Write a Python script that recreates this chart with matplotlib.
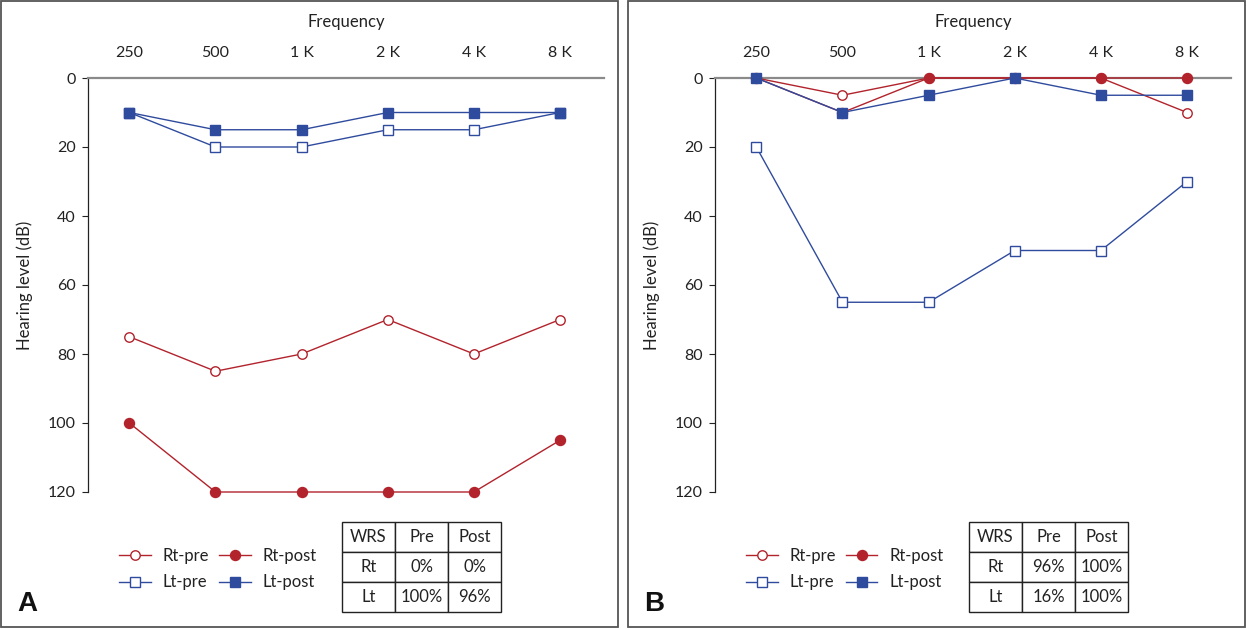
import matplotlib
matplotlib.use("Agg")
import matplotlib.pyplot as plt
from matplotlib.lines import Line2D
from matplotlib.patches import Rectangle

plt.rcParams['font.family'] = ['Lato', 'DejaVu Sans']

freqs = ['250', '500', '1 K', '2 K', '4 K', '8 K']
yticks = [0, 20, 40, 60, 80, 100, 120]

# panel A
a_rt_pre = [75, 85, 80, 70, 80, 70]
a_rt_post = [100, 120, 120, 120, 120, 105]
a_lt_pre = [10, 20, 20, 15, 15, 10]
a_lt_post = [10, 15, 15, 10, 10, 10]
a_wrs = [['WRS', 'Pre', 'Post'], ['Rt', '0%', '0%'], ['Lt', '100%', '96%']]

# panel B
b_rt_pre = [0, 5, 0, 0, 0, 10]
b_rt_post = [0, 10, 0, 0, 0, 0]
b_lt_pre = [20, 65, 65, 50, 50, 30]
b_lt_post = [0, 10, 5, 0, 5, 5]
b_wrs = [['WRS', 'Pre', 'Post'], ['Rt', '96%', '100%'], ['Lt', '16%', '100%']]

RED = '#b2232c'
BLUE = '#2f4b9e'
W, H = 1247, 629

fig = plt.figure(figsize=(W / 100, H / 100), dpi=100)


def px(x, y, w=0, h=0):
    # pixel box (top-left origin) -> figure fraction
    return [x / W, 1 - (y + h) / H, w / W, h / H]


def panel(x0, rt_pre, rt_post, lt_pre, lt_post, wrs, letter):
    # outer frame
    fx, fy, fw, fh = px(x0 + 1, 1, 617, 626)
    fig.patches.append(Rectangle((fx, fy), fw, fh, transform=fig.transFigure,
                                 fill=False, edgecolor='#555555', linewidth=1.3))

    ax = fig.add_axes(px(x0 + 88, 78, 516, 414))
    xs = range(len(freqs))
    kw = dict(linewidth=1.0, clip_on=False)
    ax.plot(xs, rt_pre, color=RED, marker='o', markersize=6.8, markerfacecolor='white',
            markeredgecolor=RED, markeredgewidth=1.0, zorder=4, **kw)
    ax.plot(xs, rt_post, color=RED, marker='o', markersize=7.2, markerfacecolor=RED,
            markeredgecolor=RED, zorder=5, **kw)
    ax.plot(xs, lt_pre, color=BLUE, marker='s', markersize=7.0, markerfacecolor='white',
            markeredgecolor=BLUE, markeredgewidth=1.0, zorder=6, **kw)
    ax.plot(xs, lt_post, color=BLUE, marker='s', markersize=7.4, markerfacecolor=BLUE,
            markeredgecolor=BLUE, zorder=7, **kw)

    ax.set_xlim(-0.48, 5.51)
    ax.set_ylim(120, 0)
    ax.set_yticks(yticks)
    ax.set_xticks(list(xs))
    ax.set_xticklabels(freqs)
    ax.xaxis.tick_top()
    ax.tick_params(axis='x', length=0, pad=13, labelsize=11.5, colors='#222222')
    ax.tick_params(axis='y', length=4, width=0.8, pad=5, labelsize=11.5, colors='#222222')
    for s in ('right', 'bottom'):
        ax.spines[s].set_visible(False)
    ax.spines['top'].set_color('#8a8a8a')
    ax.spines['top'].set_linewidth(1.6)
    ax.spines['left'].set_color('#222222')
    ax.spines['left'].set_linewidth(0.9)

    fig.text((x0 + 346) / W, 1 - 22 / H, 'Frequency', ha='center', va='center',
             fontsize=12, color='#222222')
    fig.text((x0 + 25) / W, 1 - 285 / H, 'Hearing level (dB)', ha='center', va='center',
             rotation=90, fontsize=12, color='#222222')

    # legend
    handles = [
        Line2D([], [], color=RED, marker='o', markersize=6.8, markerfacecolor='white',
               markeredgecolor=RED, linewidth=1.0),
        Line2D([], [], color=BLUE, marker='s', markersize=7.0, markerfacecolor='white',
               markeredgecolor=BLUE, linewidth=1.0),
        Line2D([], [], color=RED, marker='o', markersize=7.2, markerfacecolor=RED,
               markeredgecolor=RED, linewidth=1.0),
        Line2D([], [], color=BLUE, marker='s', markersize=7.4, markerfacecolor=BLUE,
               markeredgecolor=BLUE, linewidth=1.0),
    ]
    labels = ['Rt-pre', 'Lt-pre', 'Rt-post', 'Lt-post']
    fig.legend(handles, labels, ncol=2, frameon=False, fontsize=12,
               loc='center left', bbox_to_anchor=((x0 + 104) / W, 1 - 569 / H),
               handlelength=1.9, handletextpad=0.7, columnspacing=0.6,
               labelspacing=0.65, labelcolor='#222222')

    # WRS table
    tax = fig.add_axes(px(x0 + 342, 522, 159, 90))
    tax.axis('off')
    tb = tax.table(cellText=wrs, cellLoc='center', bbox=[0, 0, 1, 1])
    tb.auto_set_font_size(False)
    for cell in tb.get_celld().values():
        cell.set_fontsize(12)
        cell.set_linewidth(1.0)
        cell.set_edgecolor('#222222')
        cell.get_text().set_color('#222222')

    fig.text((x0 + 17) / W, 1 - 604 / H, letter, ha='left', va='center',
             fontsize=20, fontweight='bold', family='Liberation Sans', color='#111111')


panel(0, a_rt_pre, a_rt_post, a_lt_pre, a_lt_post, a_wrs, 'A')
panel(627, b_rt_pre, b_rt_post, b_lt_pre, b_lt_post, b_wrs, 'B')

fig.savefig('out.png', dpi=100)
